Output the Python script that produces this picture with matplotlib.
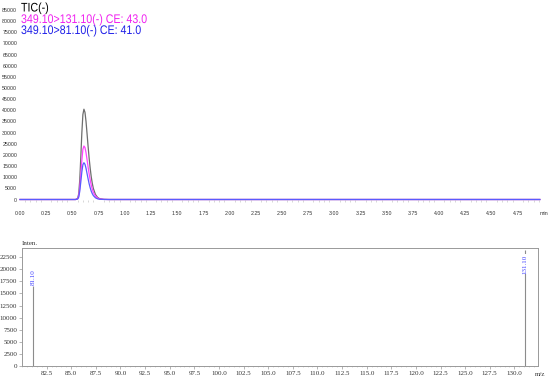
import matplotlib
matplotlib.use("Agg")
import matplotlib.pyplot as plt
from matplotlib.patheffects import AbstractPathEffect
from matplotlib.transforms import Affine2D
from matplotlib.ticker import MultipleLocator

# ---------------- data ----------------
# chromatogram (time in min)
time_min = [0.00, 0.53, 0.55, 0.56, 0.57, 0.58, 0.59, 0.60, 0.61, 0.62, 0.63, 0.64,
            0.65, 0.66, 0.67, 0.68, 0.69, 0.70, 0.72, 0.74, 0.76, 0.80, 0.85, 4.96]
mrm_131 = [0, 0, 300, 1500, 5000, 11000, 17500, 22500, 24000, 23300, 21000, 17800,
           14500, 11400, 8700, 6400, 4600, 3200, 1500, 650, 250, 50, 0, 0]
mrm_81 = [0, 0, 200, 1000, 3600, 7800, 12300, 15600, 16500, 15800, 14000, 11600,
          9200, 7000, 5200, 3700, 2600, 1750, 750, 300, 100, 20, 0, 0]
tic = [0, 0, 500, 2500, 8600, 18800, 29800, 38100, 40500, 39100, 35000, 29400,
       23700, 18400, 13900, 10100, 7200, 4950, 2250, 950, 350, 70, 0, 0]

legend_labels = ["TIC(-)", "349.10>131.10(-) CE: 43.0", "349.10>81.10(-) CE: 41.0"]

top_xticks = [0.00, 0.25, 0.50, 0.75, 1.00, 1.25, 1.50, 1.75, 2.00, 2.25, 2.50,
              2.75, 3.00, 3.25, 3.50, 3.75, 4.00, 4.25, 4.50, 4.75]
top_yticks = list(range(0, 85001, 5000))

# spectrum
mz = [81.10, 131.10]
inten = [16500, 24000]
mz_labels = ["81.10", "131.10"]
bot_xticks = [82.5, 85.0, 87.5, 90.0, 92.5, 95.0, 97.5, 100.0, 102.5, 105.0, 107.5,
              110.0, 112.5, 115.0, 117.5, 120.0, 122.5, 125.0, 127.5, 130.0]
bot_yticks = list(range(0, 22501, 2500))

# ---------------- figure ----------------
W, H = 550, 379
fig = plt.figure(figsize=(W / 100, H / 100), dpi=100)

def axes_px(x0, y0, x1, y1):
    return fig.add_axes([x0 / W, 1 - y1 / H, (x1 - x0) / W, (y1 - y0) / H])

sans = "Liberation Sans"
serif = "Liberation Serif"


class Condense(AbstractPathEffect):
    """Draw text horizontally condensed around a fixed display x."""
    def __init__(self, sx, x0):
        super().__init__()
        self.sx = sx
        self.x0 = x0

    def draw_path(self, renderer, gc, tpath, affine, rgbFace=None):
        t = affine + Affine2D().translate(-self.x0, 0).scale(self.sx, 1).translate(self.x0, 0)
        renderer.draw_path(gc, tpath, t, rgbFace)


# ---- top chromatogram ----
ax = axes_px(20, 10, 544, 199.5)
ax.set_xlim(0, 5.0)
ax.set_ylim(0, 85000)
ax.plot(time_min, tic, color="#6e6e6e", lw=0.9, clip_on=False, zorder=3)
ax.plot(time_min, mrm_131, color="#ff44ff", lw=0.9, clip_on=False, zorder=4)
ax.plot(time_min, mrm_81, color="#5a5aff", lw=0.9, clip_on=False, zorder=5)
for s in ax.spines.values():
    s.set_visible(False)
ax.set_xticks(top_xticks + [5.0])
ax.set_xticklabels([f"{t:.2f}" for t in top_xticks] + ["min"],
                   fontsize=3.8, family=sans, color="#333333")
ax.set_yticks(top_yticks)
ax.set_yticklabels([str(v) for v in top_yticks], fontsize=3.8, family=sans,
                   color="#333333")
ax.xaxis.set_minor_locator(MultipleLocator(0.05))
ax.tick_params(axis="both", which="major", length=0, pad=8)
ax.tick_params(axis="y", which="major", pad=2)
ax.tick_params(axis="x", which="minor", length=1.5, color="#c8c8c8", width=0.5,
               direction="out", pad=0)
ax.patch.set_alpha(0)

legend_colors = ["black", "#f020f0", "#2020e8"]
legend_y = [8.5, 20, 31]
for lab, col, yy in zip(legend_labels, legend_colors, legend_y):
    fig.text(21 / W, 1 - yy / H, lab, fontsize=9, family=sans, color=col,
             va="center", ha="left", path_effects=[Condense(0.85, 21)])

# ---- bottom spectrum ----
bx = axes_px(22, 248, 538, 366)
bx.set_xlim(80.0, 132.4)
bx.set_ylim(0, 24400)
bx.vlines(mz, 0, inten, color="#8c8c8c", lw=0.8)
bx.text(mz[0], inten[0] + 150, mz_labels[0], rotation=90, ha="center", va="bottom",
        fontsize=5, family=serif, color="#4040ff")
bx.text(mz[1], 21000, mz_labels[1], rotation=90, ha="center", va="center",
        fontsize=5, family=serif, color="#4040ff",
        bbox=dict(facecolor="white", edgecolor="none", pad=0.3))
for s in bx.spines.values():
    s.set_color("#999999")
    s.set_linewidth(0.7)
bx.set_xticks(bot_xticks)
bx.set_xticklabels([f"{v:.1f}" for v in bot_xticks], fontsize=5, family=serif,
                   color="#333333")
bx.set_yticks(bot_yticks)
bx.set_yticklabels([str(v) for v in bot_yticks], fontsize=5, family=serif,
                   color="#333333")
bx.xaxis.set_minor_locator(MultipleLocator(0.5))
bx.tick_params(axis="both", which="major", length=2, width=0.5, color="#999999",
               direction="out", pad=1.5)
bx.tick_params(axis="x", which="minor", length=1, width=0.4, color="#bbbbbb",
               direction="out")
fig.text(22 / W, 1 - 243 / H, "Inten.", fontsize=5, family=serif,
         color="#333333", va="center", ha="left")
fig.text(535 / W, 1 - 375 / H, "m/z", fontsize=5, family=serif,
         color="#333333", va="center", ha="left")

fig.savefig("out.png", dpi=100)
